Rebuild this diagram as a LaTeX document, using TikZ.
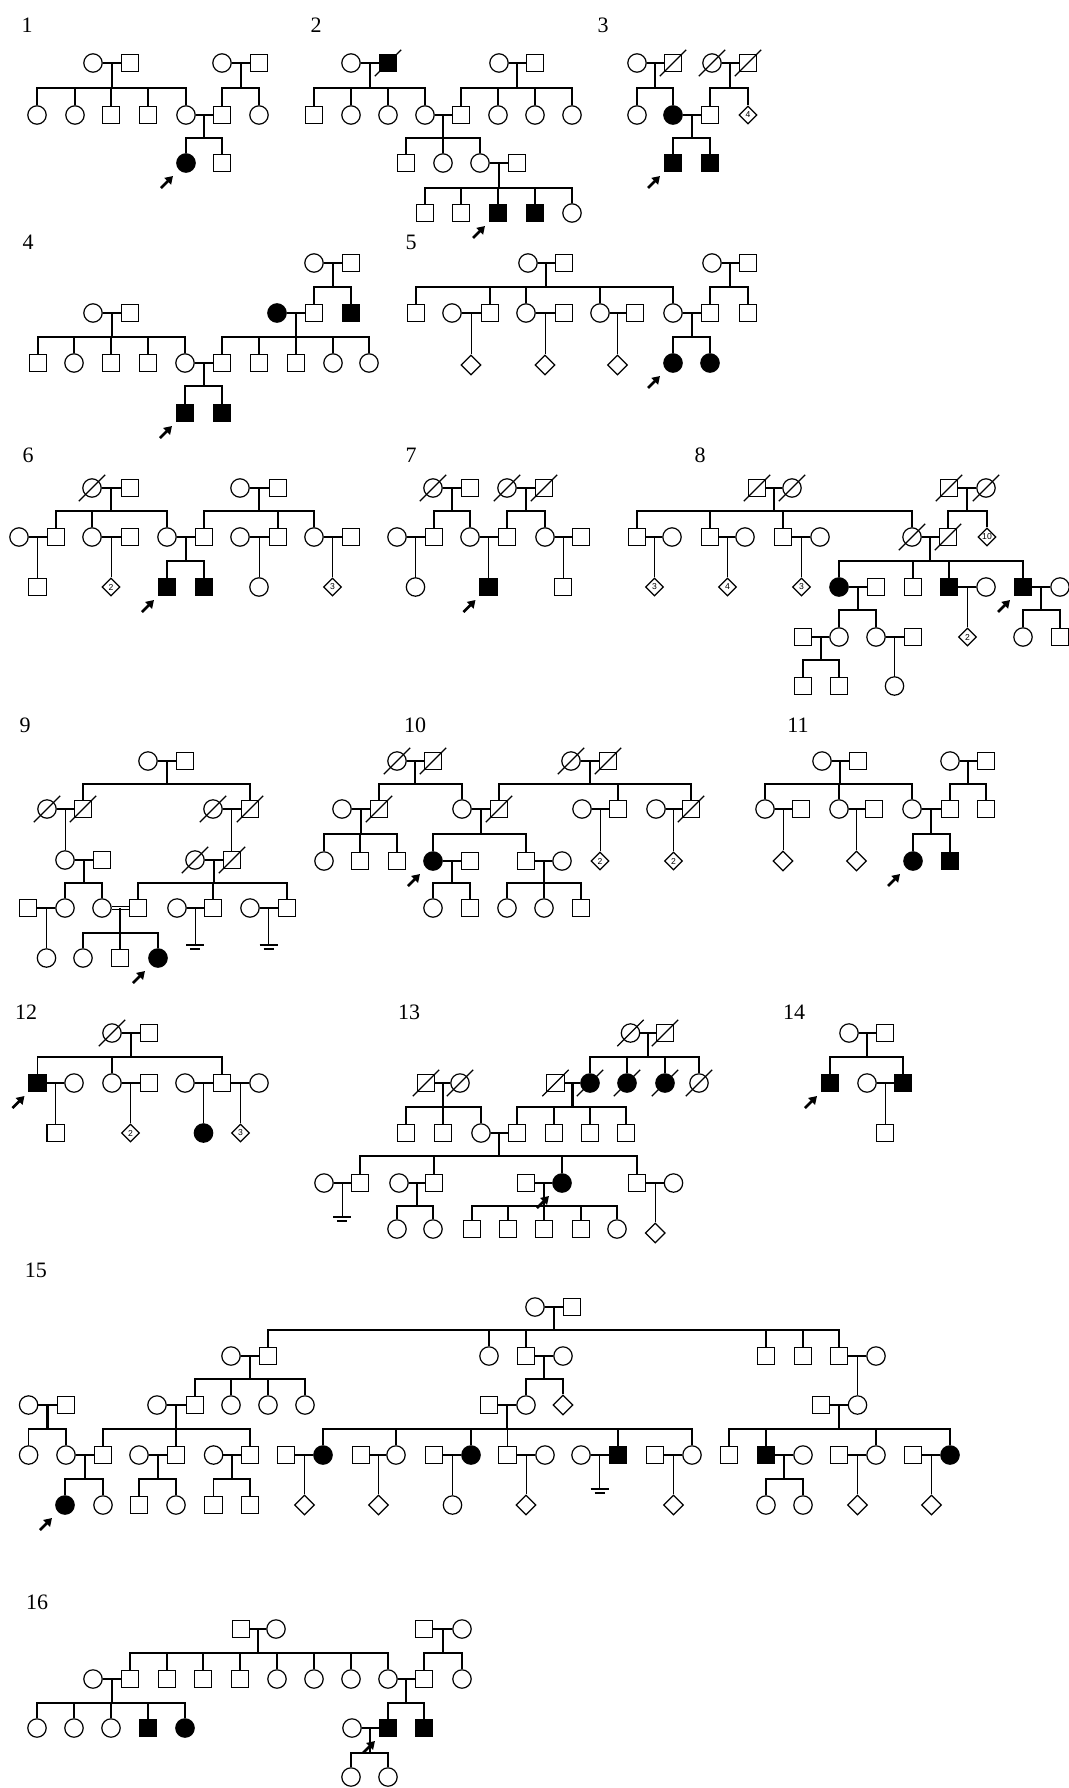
\documentclass[tikz,border=0pt]{standalone}
\usepackage{fontspec}
\setmainfont{Liberation Serif}
\newfontfamily\numfont{Liberation Sans}
\usetikzlibrary{calc}
\usetikzlibrary{positioning}
\usetikzlibrary{shapes.geometric}
\usetikzlibrary{arrows.meta}

\tikzset{
ind/.style={draw,line width=0.6pt,inner sep=0pt,minimum size=8.8pt,fill=white},
fem/.style={ind,circle,minimum size=9.2pt},
mal/.style={ind,rectangle},
unk/.style={ind,diamond,minimum size=10pt},
unkn/.style={ind,diamond,minimum size=9pt,font=\numfont\fontsize{4.3}{5}\selectfont},
aff/.style={fill=black},
sline/.style={line width=0.55pt},
dline/.style={line width=1.1pt},
parrow/.style={line width=1.3pt,-{Triangle[length=3.8pt,width=4.6pt]}},
dead/.style={append after command={($(\tikzlastnode.center)+(-6.6pt,-6.6pt)$) edge[draw,sline] ($(\tikzlastnode.center)+(6.6pt,6.6pt)$)}},
pb/.style={append after command={($(\tikzlastnode.center)+(-12.5pt,-12.5pt)$) edge[draw,parrow] ($(\tikzlastnode.center)+(-6.5pt,-6.5pt)$)}},
lab/.style={font=\fontsize{11}{12}\selectfont,inner sep=0pt},
}

\newcommand\couple[3]{\draw[sline] (#1.east) -- (#2.west) coordinate[midway] (#3);}
\newcommand\sibs[3]{%
  \draw[dline] (#1) -- (#1 |- 0,#2);
  \foreach \ch in {#3} {\draw[sline] (\ch.north) |- (#1 |- 0,#2);}%
}
\newcommand\child[2]{\draw[sline] (#1) -- (#1 |- #2.north);}
\newcommand\nochild[2]{%
  \draw[sline] (#1) -- (#1 |- 0,#2) coordinate (#1z);
  \draw[sline] ($(#1z)+(-9,0)$) -- ($(#1z)+(9,0)$);
  \draw[sline] ($(#1z)+(-5,4)$) -- ($(#1z)+(5,4)$);}

\begin{document}
\begin{tikzpicture}[x=0.5pt,y=-0.5pt]
\useasboundingbox (0,0) rectangle (1069,1788);

% pedigree 1
\node[lab] (l1) at (27,25) {1};
\node[fem] (p1a1) at (93,63) {};
\node[mal] (p1a2) at (130,63) {};
\node[fem] (p1a3) at (222,63) {};
\node[mal] (p1a4) at (259,63) {};
\node[fem] (p1b1) at (37,115) {};
\node[fem] (p1b2) at (75,115) {};
\node[mal] (p1b3) at (111,115) {};
\node[mal] (p1b4) at (148,115) {};
\node[fem] (p1b5) at (186,115) {};
\node[mal] (p1b6) at (222,115) {};
\node[fem] (p1b7) at (259,115) {};
\node[fem,aff,pb] (p1c1) at (186,163) {};
\node[mal] (p1c2) at (222,163) {};
\couple{p1a1}{p1a2}{u1a1}
\couple{p1a3}{p1a4}{u1a2}
\couple{p1b5}{p1b6}{u1b1}
\sibs{u1a1}{88}{p1b1,p1b2,p1b3,p1b4,p1b5}
\sibs{u1a2}{88}{p1b6,p1b7}
\sibs{u1b1}{138}{p1c1,p1c2}

% pedigree 2
\node[lab] (l2) at (316,25) {2};
\node[fem] (p2a1) at (351,63) {};
\node[mal,aff,dead] (p2a2) at (388,63) {};
\node[fem] (p2a3) at (499,63) {};
\node[mal] (p2a4) at (535,63) {};
\node[mal] (p2b1) at (314,115) {};
\node[fem] (p2b2) at (351,115) {};
\node[fem] (p2b3) at (388,115) {};
\node[fem] (p2b4) at (425,115) {};
\node[mal] (p2b5) at (461,115) {};
\node[fem] (p2b6) at (498,115) {};
\node[fem] (p2b7) at (535,115) {};
\node[fem] (p2b8) at (572,115) {};
\node[mal] (p2c1) at (406,163) {};
\node[fem] (p2c2) at (443,163) {};
\node[fem] (p2c3) at (480,163) {};
\node[mal] (p2c4) at (517,163) {};
\node[mal] (p2d1) at (425,213) {};
\node[mal] (p2d2) at (461,213) {};
\node[mal,aff,pb] (p2d3) at (498,213) {};
\node[mal,aff] (p2d4) at (535,213) {};
\node[fem] (p2d5) at (572,213) {};
\couple{p2a1}{p2a2}{u2a1}
\couple{p2a3}{p2a4}{u2a2}
\couple{p2b4}{p2b5}{u2b1}
\couple{p2c3}{p2c4}{u2c1}
\sibs{u2a1}{88}{p2b1,p2b2,p2b3,p2b4}
\sibs{u2a2}{88}{p2b5,p2b6,p2b7,p2b8}
\sibs{u2b1}{138}{p2c1,p2c2,p2c3}
\sibs{u2c1}{188}{p2d1,p2d2,p2d3,p2d4,p2d5}

% pedigree 3
\node[lab] (l3) at (603,25) {3};
\node[fem] (p3a1) at (637,63) {};
\node[mal,dead] (p3a2) at (673,63) {};
\node[fem,dead] (p3a3) at (712,63) {};
\node[mal,dead] (p3a4) at (748,63) {};
\node[fem] (p3b1) at (637,115) {};
\node[fem,aff] (p3b2) at (673,115) {};
\node[mal] (p3b3) at (710,115) {};
\node[unkn] (p3b4) at (748,115) {4};
\node[mal,aff,pb] (p3c1) at (673,163) {};
\node[mal,aff] (p3c2) at (710,163) {};
\couple{p3a1}{p3a2}{u3a1}
\couple{p3a3}{p3a4}{u3a2}
\couple{p3b2}{p3b3}{u3b1}
\sibs{u3a1}{88}{p3b1,p3b2}
\sibs{u3a2}{88}{p3b3,p3b4}
\sibs{u3b1}{138}{p3c1,p3c2}

% pedigree 4
\node[lab] (l4) at (28,242) {4};
\node[fem] (p4a1) at (314,263) {};
\node[mal] (p4a2) at (351,263) {};
\node[fem] (p4b1) at (93,313) {};
\node[mal] (p4b2) at (130,313) {};
\node[fem,aff] (p4b3) at (277,313) {};
\node[mal] (p4b4) at (314,313) {};
\node[mal,aff] (p4b5) at (351,313) {};
\node[mal] (p4c1) at (38,363) {};
\node[fem] (p4c2) at (74,363) {};
\node[mal] (p4c3) at (111,363) {};
\node[mal] (p4c4) at (148,363) {};
\node[fem] (p4c5) at (185,363) {};
\node[mal] (p4c6) at (222,363) {};
\node[mal] (p4c7) at (259,363) {};
\node[mal] (p4c8) at (296,363) {};
\node[fem] (p4c9) at (333,363) {};
\node[fem] (p4c10) at (369,363) {};
\node[mal,aff,pb] (p4d1) at (185,413) {};
\node[mal,aff] (p4d2) at (222,413) {};
\couple{p4a1}{p4a2}{u4a1}
\couple{p4b1}{p4b2}{u4b1}
\couple{p4b3}{p4b4}{u4b2}
\couple{p4c5}{p4c6}{u4c1}
\sibs{u4a1}{287}{p4b4,p4b5}
\sibs{u4b1}{337}{p4c1,p4c2,p4c3,p4c4,p4c5}
\sibs{u4b2}{337}{p4c6,p4c7,p4c8,p4c9,p4c10}
\sibs{u4c1}{386}{p4d1,p4d2}

% pedigree 5
\node[lab] (l5) at (411,242) {5};
\node[fem] (p5a1) at (528,263) {};
\node[mal] (p5a2) at (564,263) {};
\node[fem] (p5a3) at (712,263) {};
\node[mal] (p5a4) at (748,263) {};
\node[mal] (p5b1) at (416,313) {};
\node[fem] (p5b2) at (452,313) {};
\node[mal] (p5b3) at (490,313) {};
\node[fem] (p5b4) at (526,313) {};
\node[mal] (p5b5) at (564,313) {};
\node[fem] (p5b6) at (600,313) {};
\node[mal] (p5b7) at (635,313) {};
\node[fem] (p5b8) at (673,313) {};
\node[mal] (p5b9) at (710,313) {};
\node[mal] (p5b10) at (748,313) {};
\node[unk] (p5c1) at (471,365) {};
\node[unk] (p5c2) at (545,365) {};
\node[unk] (p5c3) at (617.5,365) {};
\node[fem,aff,pb] (p5c4) at (673,363) {};
\node[fem,aff] (p5c5) at (710,363) {};
\couple{p5a1}{p5a2}{u5a1}
\couple{p5a3}{p5a4}{u5a2}
\couple{p5b2}{p5b3}{u5b1}
\couple{p5b4}{p5b5}{u5b2}
\couple{p5b6}{p5b7}{u5b3}
\couple{p5b8}{p5b9}{u5b4}
\sibs{u5a1}{287}{p5b1,p5b3,p5b4,p5b6,p5b8}
\sibs{u5a2}{287}{p5b9,p5b10}
\child{u5b1}{p5c1}
\child{u5b2}{p5c2}
\child{u5b3}{p5c3}
\sibs{u5b4}{337}{p5c4,p5c5}

% pedigree 6
\node[lab] (l6) at (28,455) {6};
\node[fem,dead] (p6a1) at (92,488) {};
\node[mal] (p6a2) at (130,488) {};
\node[fem] (p6a3) at (240,488) {};
\node[mal] (p6a4) at (278,488) {};
\node[fem] (p6b1) at (19,537) {};
\node[mal] (p6b2) at (56,537) {};
\node[fem] (p6b3) at (92,537) {};
\node[mal] (p6b4) at (130,537) {};
\node[fem] (p6b5) at (167,537) {};
\node[mal] (p6b6) at (204,537) {};
\node[fem] (p6b7) at (240,537) {};
\node[mal] (p6b8) at (278,537) {};
\node[fem] (p6b9) at (314,537) {};
\node[mal] (p6b10) at (351,537) {};
\node[mal] (p6c1) at (37.5,587) {};
\node[unkn] (p6c2) at (111,587) {2};
\node[mal,aff,pb] (p6c3) at (167,587) {};
\node[mal,aff] (p6c4) at (204,587) {};
\node[fem] (p6c5) at (259,587) {};
\node[unkn] (p6c6) at (332.5,587) {3};
\couple{p6a1}{p6a2}{u6a1}
\couple{p6a3}{p6a4}{u6a2}
\couple{p6b1}{p6b2}{u6b1}
\couple{p6b3}{p6b4}{u6b2}
\couple{p6b5}{p6b6}{u6b3}
\couple{p6b7}{p6b8}{u6b4}
\couple{p6b9}{p6b10}{u6b5}
\sibs{u6a1}{511}{p6b2,p6b3,p6b5}
\sibs{u6a2}{511}{p6b6,p6b8,p6b9}
\child{u6b1}{p6c1}
\child{u6b2}{p6c2}
\sibs{u6b3}{561}{p6c3,p6c4}
\child{u6b4}{p6c5}
\child{u6b5}{p6c6}

% pedigree 7
\node[lab] (l7) at (411,455) {7};
\node[fem,dead] (p7a1) at (433,488) {};
\node[mal] (p7a2) at (470,488) {};
\node[fem,dead] (p7a3) at (507,488) {};
\node[mal,dead] (p7a4) at (544,488) {};
\node[fem] (p7b1) at (397,537) {};
\node[mal] (p7b2) at (434,537) {};
\node[fem] (p7b3) at (470,537) {};
\node[mal] (p7b4) at (507,537) {};
\node[fem] (p7b5) at (545,537) {};
\node[mal] (p7b6) at (581,537) {};
\node[fem] (p7c1) at (415.5,587) {};
\node[mal,aff,pb] (p7c2) at (488.5,587) {};
\node[mal] (p7c3) at (563,587) {};
\couple{p7a1}{p7a2}{u7a1}
\couple{p7a3}{p7a4}{u7a2}
\couple{p7b1}{p7b2}{u7b1}
\couple{p7b3}{p7b4}{u7b2}
\couple{p7b5}{p7b6}{u7b3}
\sibs{u7a1}{511}{p7b2,p7b3}
\sibs{u7a2}{511}{p7b4,p7b5}
\child{u7b1}{p7c1}
\child{u7b2}{p7c2}
\child{u7b3}{p7c3}

% pedigree 8
\node[lab] (l8) at (700,455) {8};
\node[mal,dead] (p8a1) at (757,488) {};
\node[fem,dead] (p8a2) at (792,488) {};
\node[mal,dead] (p8a3) at (949,488) {};
\node[fem,dead] (p8a4) at (986,488) {};
\node[mal] (p8b1) at (637,537) {};
\node[fem] (p8b2) at (672,537) {};
\node[mal] (p8b3) at (710,537) {};
\node[fem] (p8b4) at (745,537) {};
\node[mal] (p8b5) at (783,537) {};
\node[fem] (p8b6) at (820,537) {};
\node[fem,dead] (p8b7) at (912,537) {};
\node[mal,dead] (p8b8) at (948,537) {};
\node[unkn] (p8b9) at (987,537) {10};
\node[unkn] (p8c1) at (654.5,587) {3};
\node[unkn] (p8c2) at (727.5,587) {4};
\node[unkn] (p8c3) at (801.5,587) {3};
\node[fem,aff] (p8c4) at (839,587) {};
\node[mal] (p8c5) at (876,587) {};
\node[mal] (p8c6) at (913,587) {};
\node[mal,aff] (p8c7) at (949,587) {};
\node[fem] (p8c8) at (986,587) {};
\node[mal,aff,pb] (p8c9) at (1023,587) {};
\node[fem] (p8c10) at (1060,587) {};
\node[mal] (p8d1) at (803,637) {};
\node[fem] (p8d2) at (839,637) {};
\node[fem] (p8d3) at (876,637) {};
\node[mal] (p8d4) at (913,637) {};
\node[unkn] (p8d5) at (967.5,637) {2};
\node[fem] (p8d6) at (1023,637) {};
\node[mal] (p8d7) at (1060,637) {};
\node[mal] (p8e1) at (803,686) {};
\node[mal] (p8e2) at (839,686) {};
\node[fem] (p8e3) at (894.5,686) {};
\couple{p8a1}{p8a2}{u8a1}
\couple{p8a3}{p8a4}{u8a2}
\couple{p8b1}{p8b2}{u8b1}
\couple{p8b3}{p8b4}{u8b2}
\couple{p8b5}{p8b6}{u8b3}
\couple{p8b7}{p8b8}{u8b4}
\couple{p8c4}{p8c5}{u8c1}
\couple{p8c7}{p8c8}{u8c2}
\couple{p8c9}{p8c10}{u8c3}
\couple{p8d1}{p8d2}{u8d1}
\couple{p8d3}{p8d4}{u8d2}
\sibs{u8a1}{511}{p8b1,p8b3,p8b5,p8b7}
\sibs{u8a2}{511}{p8b8,p8b9}
\child{u8b1}{p8c1}
\child{u8b2}{p8c2}
\child{u8b3}{p8c3}
\sibs{u8b4}{561}{p8c4,p8c6,p8c7,p8c9}
\sibs{u8c1}{610}{p8d2,p8d3}
\child{u8c2}{p8d5}
\sibs{u8c3}{610}{p8d6,p8d7}
\sibs{u8d1}{660}{p8e1,p8e2}
\child{u8d2}{p8e3}

% pedigree 9
\node[lab] (l9) at (25,725) {9};
\node[fem] (p9a1) at (148,761) {};
\node[mal] (p9a2) at (185,761) {};
\node[fem,dead] (p9b1) at (47,809) {};
\node[mal,dead] (p9b2) at (83,809) {};
\node[fem,dead] (p9b3) at (213,809) {};
\node[mal,dead] (p9b4) at (250,809) {};
\node[fem] (p9c1) at (65,860) {};
\node[mal] (p9c2) at (102,860) {};
\node[fem,dead] (p9c3) at (195,860) {};
\node[mal,dead] (p9c4) at (232,860) {};
\node[mal] (p9d1) at (28,908) {};
\node[fem] (p9d2) at (65,908) {};
\node[fem] (p9d3) at (102,908) {};
\node[mal] (p9d4) at (138,908) {};
\node[fem] (p9d5) at (177,908) {};
\node[mal] (p9d6) at (213,908) {};
\node[fem] (p9d7) at (250,908) {};
\node[mal] (p9d8) at (287,908) {};
\node[fem] (p9e1) at (46.5,958) {};
\node[fem] (p9e2) at (83,958) {};
\node[mal] (p9e3) at (120,958) {};
\node[fem,aff,pb] (p9e4) at (158,958) {};
\couple{p9a1}{p9a2}{u9a1}
\couple{p9b1}{p9b2}{u9b1}
\couple{p9b3}{p9b4}{u9b2}
\couple{p9c1}{p9c2}{u9c1}
\couple{p9c3}{p9c4}{u9c2}
\couple{p9d1}{p9d2}{u9d1}
\draw[sline,double,double distance=1pt] (p9d3.east) -- (p9d4.west) coordinate[midway] (u9d2);
\couple{p9d5}{p9d6}{u9d3}
\couple{p9d7}{p9d8}{u9d4}
\sibs{u9a1}{784}{p9b2,p9b4}
\child{u9b1}{p9c1}
\child{u9b2}{p9c4}
\sibs{u9c1}{883}{p9d2,p9d3}
\sibs{u9c2}{883}{p9d4,p9d6,p9d8}
\child{u9d1}{p9e1}
\sibs{u9d2}{933}{p9e2,p9e3,p9e4}
\nochild{u9d3}{945}
\nochild{u9d4}{945}

% pedigree 10
\node[lab] (l10) at (415,725) {10};
\node[fem,dead] (p10a1) at (397,761) {};
\node[mal,dead] (p10a2) at (433,761) {};
\node[fem,dead] (p10a3) at (571,761) {};
\node[mal,dead] (p10a4) at (608,761) {};
\node[fem] (p10b1) at (342,809) {};
\node[mal,dead] (p10b2) at (379,809) {};
\node[fem] (p10b3) at (462,809) {};
\node[mal,dead] (p10b4) at (499,809) {};
\node[fem] (p10b5) at (582,809) {};
\node[mal] (p10b6) at (618,809) {};
\node[fem] (p10b7) at (656,809) {};
\node[mal,dead] (p10b8) at (691,809) {};
\node[fem] (p10c1) at (324,861) {};
\node[mal] (p10c2) at (360,861) {};
\node[mal] (p10c3) at (397,861) {};
\node[fem,aff,pb] (p10c4) at (433,861) {};
\node[mal] (p10c5) at (470,861) {};
\node[mal] (p10c6) at (526,861) {};
\node[fem] (p10c7) at (562,861) {};
\node[unkn] (p10c8) at (600,861) {2};
\node[unkn] (p10c9) at (673.5,861) {2};
\node[fem] (p10d1) at (433,908) {};
\node[mal] (p10d2) at (470,908) {};
\node[fem] (p10d3) at (507,908) {};
\node[fem] (p10d4) at (544,908) {};
\node[mal] (p10d5) at (581,908) {};
\couple{p10a1}{p10a2}{u10a1}
\couple{p10a3}{p10a4}{u10a2}
\couple{p10b1}{p10b2}{u10b1}
\couple{p10b3}{p10b4}{u10b2}
\couple{p10b5}{p10b6}{u10b3}
\couple{p10b7}{p10b8}{u10b4}
\couple{p10c4}{p10c5}{u10c1}
\couple{p10c6}{p10c7}{u10c2}
\sibs{u10a1}{784}{p10b2,p10b3}
\sibs{u10a2}{784}{p10b4,p10b6,p10b8}
\sibs{u10b1}{834}{p10c1,p10c2,p10c3}
\sibs{u10b2}{834}{p10c4,p10c6}
\child{u10b3}{p10c8}
\child{u10b4}{p10c9}
\sibs{u10c1}{883}{p10d1,p10d2}
\sibs{u10c2}{883}{p10d3,p10d4,p10d5}

% pedigree 11
\node[lab] (l11) at (798,725) {11};
\node[fem] (p11a1) at (822,761) {};
\node[mal] (p11a2) at (858,761) {};
\node[fem] (p11a3) at (950,761) {};
\node[mal] (p11a4) at (986,761) {};
\node[fem] (p11b1) at (765,809) {};
\node[mal] (p11b2) at (801,809) {};
\node[fem] (p11b3) at (839,809) {};
\node[mal] (p11b4) at (874,809) {};
\node[fem] (p11b5) at (912,809) {};
\node[mal] (p11b6) at (950,809) {};
\node[mal] (p11b7) at (986,809) {};
\node[unk] (p11c1) at (783,861) {};
\node[unk] (p11c2) at (856.5,861) {};
\node[fem,aff,pb] (p11c3) at (913,861) {};
\node[mal,aff] (p11c4) at (950,861) {};
\couple{p11a1}{p11a2}{u11a1}
\couple{p11a3}{p11a4}{u11a2}
\couple{p11b1}{p11b2}{u11b1}
\couple{p11b3}{p11b4}{u11b2}
\couple{p11b5}{p11b6}{u11b3}
\sibs{u11a1}{784}{p11b1,p11b3,p11b5}
\sibs{u11a2}{784}{p11b6,p11b7}
\child{u11b1}{p11c1}
\child{u11b2}{p11c2}
\sibs{u11b3}{834}{p11c3,p11c4}

% pedigree 12
\node[lab] (l12) at (26,1012) {12};
\node[fem,dead] (p12a1) at (112,1033) {};
\node[mal] (p12a2) at (149,1033) {};
\node[mal,aff,pb] (p12b1) at (37.5,1083) {};
\node[fem] (p12b2) at (74,1083) {};
\node[fem] (p12b3) at (112,1083) {};
\node[mal] (p12b4) at (149,1083) {};
\node[fem] (p12b5) at (185,1083) {};
\node[mal] (p12b6) at (222,1083) {};
\node[fem] (p12b7) at (259,1083) {};
\node[mal] (p12c1) at (55.75,1133) {};
\node[unkn] (p12c2) at (130.5,1133) {2};
\node[fem,aff] (p12c3) at (203.5,1133) {};
\node[unkn] (p12c4) at (240.5,1133) {3};
\couple{p12a1}{p12a2}{u12a1}
\couple{p12b1}{p12b2}{u12b1}
\couple{p12b3}{p12b4}{u12b2}
\couple{p12b5}{p12b6}{u12b3}
\couple{p12b6}{p12b7}{u12b4}
\sibs{u12a1}{1057}{p12b1,p12b3,p12b6}
\child{u12b1}{p12c1}
\child{u12b2}{p12c2}
\child{u12b3}{p12c3}
\child{u12b4}{p12c4}

% pedigree 13
\node[lab] (l13) at (409,1012) {13};
\node[fem,dead] (p13a1) at (630.5,1033) {};
\node[mal,dead] (p13a2) at (665,1033) {};
\node[mal,dead] (p13b1) at (426,1083) {};
\node[fem,dead] (p13b2) at (460,1083) {};
\node[mal,dead] (p13b3) at (555.5,1083) {};
\node[fem,aff,dead] (p13b4) at (590,1083) {};
\node[fem,aff,dead] (p13b5) at (627,1083) {};
\node[fem,aff,dead] (p13b6) at (665,1083) {};
\node[fem,dead] (p13b7) at (699,1083) {};
\node[mal] (p13c1) at (406,1133) {};
\node[mal] (p13c2) at (443,1133) {};
\node[fem] (p13c3) at (481,1133) {};
\node[mal] (p13c4) at (517,1133) {};
\node[mal] (p13c5) at (554,1133) {};
\node[mal] (p13c6) at (590,1133) {};
\node[mal] (p13c7) at (626,1133) {};
\node[fem] (p13d1) at (324,1183) {};
\node[mal] (p13d2) at (360,1183) {};
\node[fem] (p13d3) at (399,1183) {};
\node[mal] (p13d4) at (434,1183) {};
\node[mal] (p13d5) at (526,1183) {};
\node[fem,aff,pb] (p13d6) at (562,1183) {};
\node[mal] (p13d7) at (637,1183) {};
\node[fem] (p13d8) at (673.5,1183) {};
\node[fem] (p13e1) at (397,1229) {};
\node[fem] (p13e2) at (433,1229) {};
\node[mal] (p13e3) at (472,1229) {};
\node[mal] (p13e4) at (508,1229) {};
\node[mal] (p13e5) at (544,1229) {};
\node[mal] (p13e6) at (581,1229) {};
\node[fem] (p13e7) at (617,1229) {};
\node[unk] (p13e8) at (655.25,1233) {};
\couple{p13a1}{p13a2}{u13a1}
\couple{p13b1}{p13b2}{u13b1}
\couple{p13b3}{p13b4}{u13b2}
\couple{p13c3}{p13c4}{u13c1}
\couple{p13d1}{p13d2}{u13d1}
\couple{p13d3}{p13d4}{u13d2}
\couple{p13d5}{p13d6}{u13d3}
\couple{p13d7}{p13d8}{u13d4}
\sibs{u13a1}{1057}{p13b4,p13b5,p13b6,p13b7}
\sibs{u13b1}{1107}{p13c1,p13c2,p13c3}
\sibs{u13b2}{1107}{p13c4,p13c5,p13c6,p13c7}
\sibs{u13c1}{1156}{p13d2,p13d4,p13d6,p13d7}
\nochild{u13d1}{1217}
\sibs{u13d2}{1206}{p13e1,p13e2}
\sibs{u13d3}{1206}{p13e3,p13e4,p13e5,p13e6,p13e7}
\child{u13d4}{p13e8}

% pedigree 14
\node[lab] (l14) at (794,1012) {14};
\node[fem] (p14a1) at (849,1033) {};
\node[mal] (p14a2) at (885,1033) {};
\node[mal,aff,pb] (p14b1) at (830,1083) {};
\node[fem] (p14b2) at (867,1083) {};
\node[mal,aff] (p14b3) at (903,1083) {};
\node[mal] (p14c1) at (885,1133) {};
\couple{p14a1}{p14a2}{u14a1}
\couple{p14b2}{p14b3}{u14b1}
\sibs{u14a1}{1057}{p14b1,p14b3}
\child{u14b1}{p14c1}

% pedigree 15
\node[lab] (l15) at (36,1270) {15};
\node[fem] (p15a1) at (535,1307) {};
\node[mal] (p15a2) at (572,1307) {};
\node[fem] (p15b1) at (231,1356) {};
\node[mal] (p15b2) at (268,1356) {};
\node[fem] (p15b3) at (489,1356) {};
\node[mal] (p15b4) at (526,1356) {};
\node[fem] (p15b5) at (563,1356) {};
\node[mal] (p15b6) at (766,1356) {};
\node[mal] (p15b7) at (803,1356) {};
\node[mal] (p15b8) at (839,1356) {};
\node[fem] (p15b9) at (876,1356) {};
\node[fem] (p15c1) at (28.6,1405) {};
\node[mal] (p15c2) at (66,1405) {};
\node[fem] (p15c3) at (157,1405) {};
\node[mal] (p15c4) at (195,1405) {};
\node[fem] (p15c5) at (231,1405) {};
\node[fem] (p15c6) at (268,1405) {};
\node[fem] (p15c7) at (305,1405) {};
\node[mal] (p15c8) at (489,1405) {};
\node[fem] (p15c9) at (526,1405) {};
\node[unk] (p15c10) at (563,1405) {};
\node[mal] (p15c11) at (821,1405) {};
\node[fem] (p15c12) at (857.5,1405) {};
\node[fem] (p15d1) at (28.6,1455) {};
\node[fem] (p15d2) at (66,1455) {};
\node[mal] (p15d3) at (103,1455) {};
\node[fem] (p15d4) at (139,1455) {};
\node[mal] (p15d5) at (176,1455) {};
\node[fem] (p15d6) at (213.6,1455) {};
\node[mal] (p15d7) at (250,1455) {};
\node[mal] (p15d8) at (286,1455) {};
\node[fem,aff] (p15d9) at (323,1455) {};
\node[mal] (p15d10) at (361,1455) {};
\node[fem] (p15d11) at (396,1455) {};
\node[mal] (p15d12) at (434,1455) {};
\node[fem,aff] (p15d13) at (471,1455) {};
\node[mal] (p15d14) at (507.5,1455) {};
\node[fem] (p15d15) at (545,1455) {};
\node[fem] (p15d16) at (581,1455) {};
\node[mal,aff] (p15d17) at (618,1455) {};
\node[mal] (p15d18) at (655,1455) {};
\node[fem] (p15d19) at (692,1455) {};
\node[mal] (p15d20) at (729,1455) {};
\node[mal,aff] (p15d21) at (766,1455) {};
\node[fem] (p15d22) at (803,1455) {};
\node[mal] (p15d23) at (839,1455) {};
\node[fem] (p15d24) at (876,1455) {};
\node[mal] (p15d25) at (913,1455) {};
\node[fem,aff] (p15d26) at (950,1455) {};
\node[fem,aff,pb] (p15e1) at (65,1505) {};
\node[fem] (p15e2) at (103,1505) {};
\node[mal] (p15e3) at (139,1505) {};
\node[fem] (p15e4) at (176,1505) {};
\node[mal] (p15e5) at (213.6,1505) {};
\node[mal] (p15e6) at (250,1505) {};
\node[unk] (p15e7) at (304.5,1505) {};
\node[unk] (p15e8) at (378.5,1505) {};
\node[fem] (p15e9) at (452.5,1505) {};
\node[unk] (p15e10) at (526,1505) {};
\node[unk] (p15e11) at (673.5,1505) {};
\node[fem] (p15e12) at (766,1505) {};
\node[fem] (p15e13) at (803,1505) {};
\node[unk] (p15e14) at (857.5,1505) {};
\node[unk] (p15e15) at (931.5,1505) {};
\couple{p15a1}{p15a2}{u15a1}
\couple{p15b1}{p15b2}{u15b1}
\couple{p15b4}{p15b5}{u15b2}
\couple{p15b8}{p15b9}{u15b3}
\couple{p15c1}{p15c2}{u15c1}
\couple{p15c3}{p15c4}{u15c2}
\couple{p15c8}{p15c9}{u15c3}
\couple{p15c11}{p15c12}{u15c4}
\couple{p15d2}{p15d3}{u15d1}
\couple{p15d4}{p15d5}{u15d2}
\couple{p15d6}{p15d7}{u15d3}
\couple{p15d8}{p15d9}{u15d4}
\couple{p15d10}{p15d11}{u15d5}
\couple{p15d12}{p15d13}{u15d6}
\couple{p15d14}{p15d15}{u15d7}
\couple{p15d16}{p15d17}{u15d8}
\couple{p15d18}{p15d19}{u15d9}
\couple{p15d21}{p15d22}{u15d10}
\couple{p15d23}{p15d24}{u15d11}
\couple{p15d25}{p15d26}{u15d12}
\sibs{u15a1}{1330}{p15b2,p15b3,p15b4,p15b6,p15b7,p15b8}
\sibs{u15b1}{1379}{p15c4,p15c5,p15c6,p15c7}
\sibs{u15b2}{1379}{p15c9,p15c10}
\child{u15b3}{p15c12}
\sibs{u15c1}{1429}{p15d1,p15d2}
\sibs{u15c2}{1429}{p15d3,p15d5,p15d7}
\sibs{u15c3}{1429}{p15d9,p15d11,p15d13,p15d14,p15d17,p15d19}
\sibs{u15c4}{1429}{p15d20,p15d21,p15d24,p15d26}
\sibs{u15d1}{1479}{p15e1,p15e2}
\sibs{u15d2}{1479}{p15e3,p15e4}
\sibs{u15d3}{1479}{p15e5,p15e6}
\child{u15d4}{p15e7}
\child{u15d5}{p15e8}
\child{u15d6}{p15e9}
\child{u15d7}{p15e10}
\nochild{u15d8}{1489}
\child{u15d9}{p15e11}
\sibs{u15d10}{1479}{p15e12,p15e13}
\child{u15d11}{p15e14}
\child{u15d12}{p15e15}

% pedigree 16
\node[lab] (l16) at (37,1602) {16};
\node[mal] (p16a1) at (241,1629) {};
\node[fem] (p16a2) at (276,1629) {};
\node[mal] (p16a3) at (424,1629) {};
\node[fem] (p16a4) at (462,1629) {};
\node[fem] (p16b1) at (93,1679) {};
\node[mal] (p16b2) at (130,1679) {};
\node[mal] (p16b3) at (167,1679) {};
\node[mal] (p16b4) at (203,1679) {};
\node[mal] (p16b5) at (240,1679) {};
\node[fem] (p16b6) at (277,1679) {};
\node[fem] (p16b7) at (314,1679) {};
\node[fem] (p16b8) at (351,1679) {};
\node[fem] (p16b9) at (388,1679) {};
\node[mal] (p16b10) at (424,1679) {};
\node[fem] (p16b11) at (462,1679) {};
\node[fem] (p16c1) at (37,1728) {};
\node[fem] (p16c2) at (74,1728) {};
\node[fem] (p16c3) at (111,1728) {};
\node[mal,aff] (p16c4) at (148,1728) {};
\node[fem,aff] (p16c5) at (185,1728) {};
\node[fem] (p16c6) at (352,1728) {};
\node[mal,aff,pb] (p16c7) at (388,1728) {};
\node[mal,aff] (p16c8) at (424,1728) {};
\node[fem] (p16d1) at (351,1777) {};
\node[fem] (p16d2) at (388,1777) {};
\couple{p16a1}{p16a2}{u16a1}
\couple{p16a3}{p16a4}{u16a2}
\couple{p16b1}{p16b2}{u16b1}
\couple{p16b9}{p16b10}{u16b2}
\couple{p16c6}{p16c7}{u16c1}
\sibs{u16a1}{1653}{p16b2,p16b3,p16b4,p16b5,p16b6,p16b7,p16b8,p16b9}
\sibs{u16a2}{1653}{p16b10,p16b11}
\sibs{u16b1}{1703}{p16c1,p16c2,p16c3,p16c4,p16c5}
\sibs{u16b2}{1703}{p16c7,p16c8}
\sibs{u16c1}{1753}{p16d1,p16d2}

\end{tikzpicture}
\end{document}
